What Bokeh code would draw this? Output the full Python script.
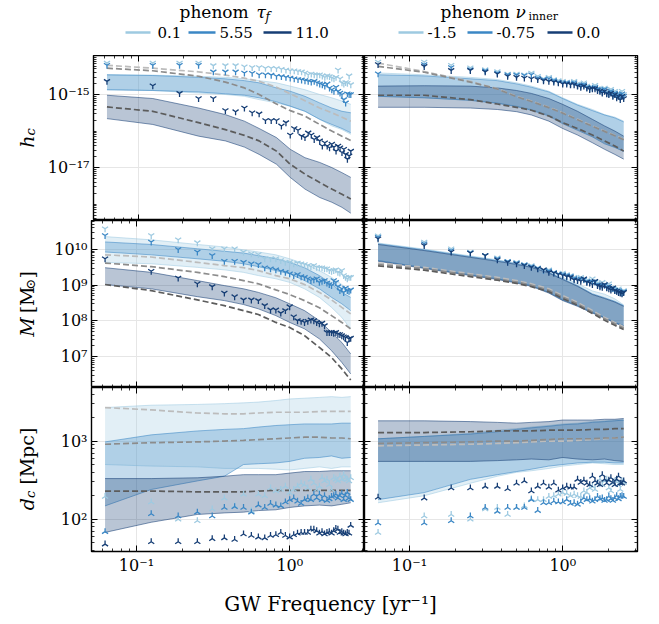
import math
from bokeh.plotting import figure
from bokeh.layouts import column, row
from bokeh.models import Range1d, LogAxis, FixedTicker, CustomJSTickFormatter
from bokeh.core.properties import value
from bokeh.embed import file_html
from bokeh.resources import INLINE

# ---------------- data (log10 values) ----------------
FREQ = [0.0624, 0.1248, 0.1871, 0.2495, 0.3119, 0.3743, 0.4367, 0.4991, 0.5614, 0.6238,
        0.6862, 0.7486, 0.8110, 0.8734, 0.9357, 0.9981, 1.0605, 1.1229, 1.1853, 1.2477,
        1.3100, 1.3724, 1.4348, 1.4972, 1.5596, 1.6220, 1.6843, 1.7467, 1.8091, 1.8715,
        1.9339, 1.9963, 2.0586, 2.1210, 2.1834, 2.2458, 2.3082, 2.3706, 2.4329, 2.4953]
FREQ_BAND = [0.0624, 0.1248, 0.2495, 0.3743, 0.4991, 0.6238, 0.8110, 0.9981, 1.2477,
             1.5596, 1.8715, 2.1834, 2.4953]

TAU_LABELS = ["0.1", "5.55", "11.0"]
NU_LABELS = ["-1.5", "-0.75", "0.0"]

# h_c, tau_f
hc_tau_a_hi = [-14.46, -14.47, -14.50, -14.53, -14.57, -14.62, -14.68, -14.77, -14.87, -15.00, -15.09, -15.18, -15.27]
hc_tau_a_lo = [-14.87, -14.89, -14.96, -15.00, -15.05, -15.14, -15.23, -15.32, -15.46, -15.68, -15.86, -15.96, -16.09]
hc_tau_a_med = [-14.20, -14.28, -14.38, -14.47, -14.55, -14.64, -14.80, -14.98, -15.17, -15.37, -15.50, -15.62, -15.73]
hc_tau_a_pts = [-14.14, -14.14, -14.14, -14.14, -14.21, -14.21, -14.21, -14.24, -14.26, -14.26,
                -14.28, -14.28, -14.29, -14.31, -14.33, -14.35, -14.35, -14.37, -14.38, -14.41,
                -14.46, -14.44, -14.46, -14.47, -14.46, -14.49, -14.53, -14.49, -14.51, -14.55,
                -14.57, -14.53, -14.33, -14.57, -14.68, -14.71, -14.67, -14.69, -14.49, -14.73]
hc_tau_b_hi = [-14.46, -14.48, -14.53, -14.57, -14.62, -14.68, -14.82, -14.91, -15.05, -15.23, -15.37, -15.46, -15.50]
hc_tau_b_lo = [-14.87, -14.89, -14.93, -14.98, -15.02, -15.09, -15.20, -15.32, -15.46, -15.68, -15.82, -15.93, -16.05]
hc_tau_b_med = [-14.28, -14.35, -14.50, -14.66, -14.82, -15.00, -15.26, -15.44, -15.59, -15.82, -16.00, -16.14, -16.26]
hc_tau_b_pts = [-14.20, -14.20, -14.20, -14.20, -14.38, -14.38, -14.38, -14.41, -14.42, -14.46,
                -14.46, -14.47, -14.50, -14.51, -14.53, -14.55, -14.57, -14.59, -14.60, -14.62,
                -14.64, -14.66, -14.64, -14.68, -14.71, -14.73, -14.77, -14.71, -14.82, -14.87,
                -14.91, -14.80, -14.91, -14.96, -15.00, -15.14, -15.23, -14.98, -15.00, -15.00]
hc_tau_c_hi = [-15.02, -15.11, -15.37, -15.55, -15.73, -15.93, -16.18, -16.50, -16.73, -16.86, -17.00, -17.14, -17.27]
hc_tau_c_lo = [-15.66, -15.82, -16.14, -16.27, -16.44, -16.64, -16.91, -17.27, -17.59, -17.82, -17.95, -18.09, -18.25]
hc_tau_c_med = [-15.34, -15.46, -15.77, -15.96, -16.12, -16.27, -16.55, -16.91, -17.18, -17.41, -17.59, -17.73, -17.86]
hc_tau_c_pts = [-14.64, -14.76, -14.97, -15.11, -15.11, -15.44, -15.47, -15.37, -15.50, -15.53,
                -15.71, -15.71, -15.71, -15.86, -15.77, -16.11, -15.93, -15.98, -16.14, -16.18,
                -16.05, -16.11, -16.23, -16.18, -16.27, -16.41, -16.32, -16.41, -16.46, -16.36,
                -16.44, -16.55, -16.41, -16.46, -16.59, -16.50, -16.64, -16.77, -16.68, -16.55]

# h_c, nu_inner
hc_nu_a_hi = [-14.41, -14.46, -14.53, -14.59, -14.68, -14.77, -14.91, -15.09, -15.27, -15.41, -15.55, -15.62, -15.73]
hc_nu_a_lo = [-15.05, -15.09, -15.16, -15.23, -15.32, -15.41, -15.56, -15.77, -15.95, -16.14, -16.32, -16.44, -16.55]
hc_nu_a_med = [-14.14, -14.37, -14.64, -14.84, -15.05, -15.18, -15.35, -15.50, -15.68, -15.86, -16.00, -16.12, -16.23]
hc_nu_a_pts = [-14.11, -14.11, -14.20, -14.27, -14.32, -14.37, -14.44, -14.44, -14.46, -14.41,
               -14.50, -14.57, -14.53, -14.59, -14.62, -14.64, -14.66, -14.68, -14.64, -14.71,
               -14.73, -14.68, -14.77, -14.82, -14.80, -14.75, -14.84, -14.86, -14.89, -14.82,
               -14.91, -14.96, -14.86, -14.98, -14.91, -15.00, -14.96, -15.05, -14.91, -15.00]
hc_nu_b_hi = [-14.46, -14.49, -14.57, -14.62, -14.71, -14.80, -14.93, -15.11, -15.29, -15.44, -15.56, -15.64, -15.75]
hc_nu_b_lo = [-15.05, -15.09, -15.16, -15.24, -15.33, -15.43, -15.59, -15.80, -15.98, -16.16, -16.35, -16.45, -16.56]
hc_nu_b_med = [-14.23, -14.39, -14.66, -14.85, -15.06, -15.19, -15.36, -15.51, -15.69, -15.87, -16.01, -16.13, -16.24]
hc_nu_b_pts = [-14.43, -14.18, -14.26, -14.32, -14.35, -14.41, -14.46, -14.47, -14.48, -14.46,
               -14.55, -14.59, -14.57, -14.62, -14.66, -14.68, -14.68, -14.71, -14.68, -14.75,
               -14.77, -14.73, -14.80, -14.84, -14.82, -14.80, -14.86, -14.89, -14.93, -14.86,
               -14.96, -14.98, -14.91, -15.02, -14.96, -15.05, -15.00, -15.09, -14.98, -15.05]
hc_nu_c_hi = [-14.77, -14.76, -14.77, -14.82, -14.89, -14.97, -15.11, -15.27, -15.46, -15.68, -15.86, -16.00, -16.14]
hc_nu_c_lo = [-15.35, -15.35, -15.37, -15.41, -15.47, -15.56, -15.73, -15.93, -16.11, -16.32, -16.50, -16.64, -16.77]
hc_nu_c_med = [-15.02, -15.02, -15.14, -15.26, -15.35, -15.43, -15.59, -15.77, -15.93, -16.11, -16.27, -16.41, -16.55]
hc_nu_c_pts = [-14.18, -14.23, -14.34, -14.34, -14.38, -14.44, -14.50, -14.53, -14.55, -14.57,
               -14.59, -14.62, -14.64, -14.66, -14.68, -14.71, -14.71, -14.73, -14.73, -14.77,
               -14.80, -14.77, -14.82, -14.86, -14.84, -14.84, -14.89, -14.91, -14.96, -14.91,
               -14.98, -15.00, -14.96, -15.05, -15.00, -15.09, -15.05, -15.14, -15.05, -15.11]

# M, tau_f
m_tau_a_hi = [10.36, 10.27, 10.14, 10.07, 9.99, 9.93, 9.85, 9.74, 9.60, 9.41, 9.22, 9.02, 8.80]
m_tau_a_lo = [9.64, 9.60, 9.50, 9.43, 9.36, 9.27, 9.18, 9.08, 8.90, 8.66, 8.38, 8.10, 7.78]
m_tau_a_med = [9.85, 9.79, 9.64, 9.55, 9.49, 9.41, 9.27, 9.18, 9.02, 8.80, 8.59, 8.38, 8.20]
m_tau_a_pts = [10.58, 10.39, 10.27, 10.19, 10.02, 10.02, 10.02, 9.93, 9.88, 9.86,
               9.74, 9.74, 9.74, 9.69, 9.64, 9.64, 9.60, 9.62, 9.60, 9.58,
               9.55, 9.52, 9.55, 9.50, 9.49, 9.49, 9.46, 9.46, 9.41, 9.39,
               9.41, 9.43, 9.36, 9.34, 9.41, 9.27, 9.22, 9.18, 9.22, 9.22]
m_tau_b_hi = [10.21, 10.14, 10.02, 9.95, 9.90, 9.83, 9.74, 9.64, 9.49, 9.27, 9.04, 8.80, 8.66]
m_tau_b_lo = [9.93, 9.85, 9.74, 9.67, 9.60, 9.52, 9.41, 9.32, 9.13, 8.90, 8.66, 8.48, 8.29]
m_tau_b_med = [9.62, 9.52, 9.36, 9.24, 9.13, 9.04, 8.87, 8.74, 8.57, 8.37, 8.15, 7.96, 7.78]
m_tau_b_pts = [10.39, 10.21, 10.00, 9.93, 9.83, 9.67, 9.67, 9.64, 9.60, 9.58,
               9.49, 9.46, 9.43, 9.39, 9.36, 9.32, 9.27, 9.30, 9.24, 9.22,
               9.18, 9.13, 9.15, 9.18, 9.08, 9.11, 9.13, 9.06, 9.02, 8.99,
               9.13, 9.08, 8.96, 8.85, 8.90, 8.80, 8.92, 8.85, 8.83, 8.87]
m_tau_c_hi = [9.49, 9.36, 9.13, 8.99, 8.90, 8.80, 8.65, 8.48, 8.29, 8.01, 7.68, 7.40, 7.08]
m_tau_c_lo = [9.02, 8.90, 8.68, 8.57, 8.46, 8.34, 8.15, 7.96, 7.78, 7.50, 7.17, 6.84, 6.52]
m_tau_c_med = [9.02, 8.85, 8.59, 8.43, 8.29, 8.18, 7.96, 7.82, 7.59, 7.26, 6.98, 6.66, 6.35]
m_tau_c_pts = [9.74, 9.39, 9.20, 9.04, 8.96, 8.78, 8.68, 8.59, 8.59, 8.57,
               8.43, 8.31, 8.31, 8.22, 8.29, 8.40, 8.12, 8.01, 7.99, 7.96,
               7.99, 8.03, 8.01, 7.96, 7.92, 7.94, 7.87, 7.68, 7.68, 7.68,
               7.66, 7.68, 7.63, 7.62, 7.59, 7.56, 7.54, 7.40, 7.50, 7.52]

# M, nu_inner
m_nu_a_hi = [10.18, 10.01, 9.82, 9.71, 9.62, 9.55, 9.40, 9.22, 9.04, 8.84, 8.75, 8.62, 8.45]
m_nu_a_lo = [9.69, 9.49, 9.29, 9.18, 9.08, 8.99, 8.80, 8.59, 8.43, 8.24, 8.10, 7.96, 7.87]
m_nu_a_med = [9.62, 9.50, 9.32, 9.22, 9.13, 9.04, 8.90, 8.71, 8.52, 8.29, 8.10, 7.96, 7.84]
m_nu_a_pts = [10.38, 10.21, 10.02, 9.93, 9.83, 9.77, 9.67, 9.64, 9.58, 9.55,
              9.49, 9.41, 9.43, 9.36, 9.32, 9.34, 9.30, 9.27, 9.22, 9.18,
              9.22, 9.15, 9.13, 9.11, 9.18, 9.08, 9.06, 9.02, 9.08, 8.99,
              8.96, 9.04, 8.93, 8.90, 8.87, 8.85, 8.90, 8.83, 8.80, 8.85]
m_nu_b_hi = [10.16, 9.99, 9.80, 9.69, 9.60, 9.52, 9.36, 9.18, 8.99, 8.76, 8.65, 8.55, 8.43]
m_nu_b_lo = [9.69, 9.49, 9.29, 9.18, 9.08, 8.99, 8.80, 8.59, 8.43, 8.24, 8.10, 7.96, 7.87]
m_nu_b_med = [9.58, 9.46, 9.28, 9.18, 9.09, 9.00, 8.86, 8.67, 8.48, 8.25, 8.06, 7.92, 7.80]
m_nu_b_pts = [10.34, 10.16, 9.97, 9.91, 9.83, 9.74, 9.66, 9.62, 9.57, 9.52,
              9.47, 9.42, 9.40, 9.35, 9.31, 9.30, 9.27, 9.25, 9.19, 9.16,
              9.17, 9.16, 9.10, 9.08, 9.10, 9.10, 9.02, 8.99, 9.00, 9.00,
              8.94, 8.97, 8.90, 8.91, 8.86, 8.84, 8.85, 8.80, 8.78, 8.82]
m_nu_c_hi = [10.14, 9.97, 9.78, 9.67, 9.58, 9.50, 9.34, 9.16, 8.97, 8.74, 8.63, 8.53, 8.41]
m_nu_c_lo = [9.67, 9.47, 9.27, 9.16, 9.06, 8.97, 8.78, 8.57, 8.41, 8.22, 8.08, 7.94, 7.85]
m_nu_c_med = [9.54, 9.42, 9.24, 9.14, 9.05, 8.96, 8.82, 8.63, 8.44, 8.21, 8.02, 7.88, 7.76]
m_nu_c_pts = [10.30, 10.11, 9.93, 9.90, 9.83, 9.71, 9.64, 9.60, 9.55, 9.50,
              9.46, 9.43, 9.36, 9.34, 9.30, 9.27, 9.24, 9.22, 9.15, 9.13,
              9.11, 9.18, 9.08, 9.06, 9.02, 9.11, 8.99, 8.96, 8.94, 9.02,
              8.93, 8.90, 8.87, 8.93, 8.85, 8.83, 8.80, 8.78, 8.76, 8.80]

# d_c, tau_f
dc_tau_a_hi = [3.43, 3.46, 3.47, 3.48, 3.49, 3.50, 3.52, 3.54, 3.55, 3.56, 3.57, 3.56, 3.57]
dc_tau_a_lo = [2.70, 2.68, 2.67, 2.65, 2.65, 2.65, 2.64, 2.63, 2.65, 2.67, 2.65, 2.67, 2.67]
dc_tau_a_med = [3.43, 3.40, 3.36, 3.35, 3.35, 3.36, 3.37, 3.37, 3.37, 3.38, 3.38, 3.38, 3.38]
dc_tau_a_pts = [2.29, 2.22, 2.00, 1.98, 2.13, 2.27, 2.17, 2.32, 2.11, 2.32,
                2.30, 2.40, 2.36, 2.38, 2.42, 2.34, 2.38, 2.42, 2.46, 2.44,
                2.40, 2.51, 2.46, 2.38, 2.42, 2.53, 2.49, 2.51, 2.44, 2.38,
                2.53, 2.51, 2.49, 2.55, 2.51, 2.57, 2.53, 2.51, 2.49, 2.53]
dc_tau_b_hi = [2.99, 3.08, 3.13, 3.15, 3.16, 3.18, 3.20, 3.21, 3.22, 3.22, 3.22, 3.23, 3.23]
dc_tau_b_lo = [2.17, 2.38, 2.49, 2.55, 2.70, 2.71, 2.72, 2.74, 2.78, 2.79, 2.81, 2.78, 2.79]
dc_tau_b_med = [2.96, 2.98, 2.99, 3.00, 3.01, 3.02, 3.03, 3.04, 3.05, 3.05, 3.04, 3.04, 3.03]
dc_tau_b_pts = [1.84, 2.07, 2.04, 2.09, 2.04, 2.15, 2.16, 2.15, 2.09, 2.18,
                2.15, 2.20, 2.18, 2.17, 2.22, 2.25, 2.27, 2.23, 2.20, 2.25,
                2.27, 2.25, 2.32, 2.27, 2.32, 2.25, 2.30, 2.24, 2.26, 2.29,
                2.30, 2.32, 2.27, 2.30, 2.33, 2.25, 2.30, 2.34, 2.27, 2.25]
dc_tau_c_hi = [2.52, 2.52, 2.53, 2.55, 2.57, 2.57, 2.57, 2.59, 2.61, 2.61, 2.62, 2.62, 2.62]
dc_tau_c_lo = [1.83, 1.96, 2.06, 2.08, 2.09, 2.11, 2.12, 2.15, 2.17, 2.18, 2.17, 2.19, 2.21]
dc_tau_c_med = [2.36, 2.36, 2.35, 2.35, 2.35, 2.36, 2.37, 2.37, 2.37, 2.37, 2.37, 2.37, 2.37]
dc_tau_c_pts = [1.68, 1.71, 1.71, 1.71, 1.75, 1.76, 1.74, 1.81, 1.79, 1.77,
                1.76, 1.79, 1.80, 1.83, 1.79, 1.77, 1.80, 1.82, 1.83, 1.83,
                1.83, 1.87, 1.87, 1.85, 1.82, 1.84, 1.81, 1.83, 1.84, 1.82,
                1.85, 1.88, 1.87, 1.83, 1.84, 1.82, 1.81, 1.83, 1.82, 1.92]

# d_c, nu_inner
dc_nu_a_hi = [3.03, 3.06, 3.10, 3.14, 3.16, 3.18, 3.20, 3.22, 3.23, 3.25, 3.26, 3.27, 3.27]
dc_nu_a_lo = [2.21, 2.30, 2.46, 2.55, 2.60, 2.62, 2.65, 2.68, 2.70, 2.72, 2.71, 2.70, 2.70]
dc_nu_a_med = [2.94, 2.95, 2.96, 2.97, 2.98, 2.99, 3.00, 3.00, 3.01, 3.02, 3.03, 3.04, 3.05]
dc_nu_a_pts = [1.83, 2.04, 2.06, 2.00, 2.13, 2.15, 2.06, 2.15, 2.17, 2.26,
               2.25, 2.25, 2.29, 2.30, 2.32, 2.34, 2.33, 2.30, 2.32, 2.30,
               2.29, 2.36, 2.34, 2.40, 2.42, 2.38, 2.46, 2.51, 2.44, 2.49,
               2.51, 2.40, 2.36, 2.46, 2.49, 2.50, 2.44, 2.38, 2.49, 2.47]
dc_nu_b_hi = [3.03, 3.06, 3.09, 3.12, 3.15, 3.17, 3.19, 3.21, 3.22, 3.24, 3.25, 3.26, 3.27]
dc_nu_b_lo = [2.25, 2.34, 2.51, 2.57, 2.61, 2.64, 2.68, 2.70, 2.72, 2.73, 2.73, 2.72, 2.72]
dc_nu_b_med = [2.97, 2.98, 2.99, 3.00, 3.00, 3.01, 3.02, 3.03, 3.03, 3.03, 3.04, 3.04, 3.05]
dc_nu_b_pts = [1.95, 1.95, 1.98, 2.04, 2.15, 2.10, 2.15, 2.15, 2.15, 2.25,
               2.11, 2.21, 2.21, 2.23, 2.22, 2.22, 2.25, 2.20, 2.21, 2.19,
               2.22, 2.27, 2.25, 2.26, 2.23, 2.25, 2.29, 2.26, 2.27, 2.24,
               2.25, 2.29, 2.26, 2.24, 2.27, 2.30, 2.26, 2.29, 2.30, 2.29]
dc_nu_c_hi = [3.26, 3.26, 3.25, 3.24, 3.23, 3.24, 3.25, 3.27, 3.27, 3.27, 3.28, 3.28, 3.29]
dc_nu_c_lo = [2.74, 2.74, 2.74, 2.75, 2.76, 2.77, 2.76, 2.79, 2.77, 2.76, 2.77, 2.75, 2.74]
dc_nu_c_med = [3.11, 3.11, 3.12, 3.13, 3.13, 3.13, 3.14, 3.14, 3.14, 3.15, 3.15, 3.16, 3.16]
dc_nu_c_pts = [2.28, 2.27, 2.40, 2.40, 2.42, 2.42, 2.39, 2.46, 2.49, 2.36,
               2.42, 2.46, 2.41, 2.46, 2.37, 2.40, 2.42, 2.41, 2.41, 2.51,
               2.47, 2.50, 2.46, 2.44, 2.55, 2.49, 2.46, 2.44, 2.57, 2.51,
               2.46, 2.50, 2.53, 2.47, 2.44, 2.51, 2.55, 2.46, 2.46, 2.49]

# ---------------- styling ----------------
FONT = "DejaVu Serif"
COLORS = ["#9ecae1", "#3b87c5", "#163e75"]
GRAYS = ["#bcbcbc", "#8c8c8c", "#5c5c5c"]

X_RANGE = (0.0509, 3.07)
Y_RANGES = [(3.55e-19, 1.17e-14), (1.38e6, 6.46e10), (38.5, 4864.0)]
Y_MAJOR = [[1e-17, 1e-15], [1e7, 1e8, 1e9, 1e10], [1e2, 1e3]]
Y_DECADES = [range(-19, -13), range(6, 11), range(1, 4)]
FRAME_W = 273
FRAME_H = [165, 167, 166]
YLAB_W = 44
HEAD_H = 55
LEFT_B = 47
RIGHT_B = 14
BOTTOM_B = 24
XLAB_H = 39

SUP_CODE = """
const s = {"-": "\u207b", "0": "\u2070", "1": "\u00b9", "2": "\u00b2", "3": "\u00b3",
           "4": "\u2074", "5": "\u2075", "6": "\u2076", "7": "\u2077", "8": "\u2078", "9": "\u2079"};
const e = Math.round(Math.log10(tick));
return "10" + String(e).split("").map(c => s[c]).join("");
"""


def lin(v):
    return [10 ** a for a in v]


def minors(decades):
    return [m * 10.0 ** k for k in decades for m in range(1, 10)]


def style_axis(ax, ticker, labels):
    ax.ticker = ticker
    ax.axis_line_color = None
    ax.major_tick_in = 6
    ax.major_tick_out = 0
    ax.minor_tick_in = 3
    ax.minor_tick_out = 0
    ax.major_tick_line_color = "black"
    ax.minor_tick_line_color = "black"
    ax.major_tick_line_width = 1
    ax.minor_tick_line_width = 0.8
    if labels:
        ax.formatter = CustomJSTickFormatter(code=SUP_CODE)
        ax.major_label_text_font = FONT
        ax.major_label_text_font_size = "16px"
        ax.major_label_text_color = "black"
        ax.major_label_standoff = 4
    else:
        ax.formatter = CustomJSTickFormatter(code='return "";')
        ax.major_label_text_font_size = "1px"
        ax.major_label_text_color = None
        ax.major_label_standoff = 0


def make_panel(r, c, series):
    left = c == 0
    bottom = r == 2
    mbl = LEFT_B if left else 0
    mbr = 0 if left else RIGHT_B
    mbb = BOTTOM_B if bottom else 0
    p = figure(width=mbl + FRAME_W + mbr, height=FRAME_H[r] + mbb,
               x_axis_type="log", y_axis_type="log",
               x_range=Range1d(*X_RANGE), y_range=Range1d(*Y_RANGES[r]),
               output_backend="svg", toolbar_location=None,
               min_border_left=mbl, min_border_right=mbr,
               min_border_top=0, min_border_bottom=mbb)
    p.add_layout(LogAxis(), "above")
    p.add_layout(LogAxis(), "right")
    xt = FixedTicker(ticks=[0.1, 1.0], minor_ticks=minors(range(-2, 1)))
    yt = FixedTicker(ticks=Y_MAJOR[r], minor_ticks=minors(Y_DECADES[r]))
    style_axis(p.below[0], xt, bottom)
    style_axis(p.above[0], xt, False)
    style_axis(p.left[0], yt, left)
    style_axis(p.right[0], yt, False)
    p.xgrid.ticker = xt
    p.ygrid.ticker = yt
    p.grid.grid_line_color = "#e6e6e6"
    p.grid.grid_line_width = 1
    p.outline_line_color = "black"
    p.outline_line_width = 1.4
    p.background_fill_color = "white"
    p.border_fill_color = "white"

    for i, (hi, lo, med, pts) in enumerate(series):
        p.varea(x=FREQ_BAND, y1=lin(lo), y2=lin(hi), fill_color=COLORS[i], fill_alpha=0.3)
        p.line(FREQ_BAND, lin(hi), line_color=COLORS[i], line_alpha=0.55, line_width=1)
        p.line(FREQ_BAND, lin(lo), line_color=COLORS[i], line_alpha=0.55, line_width=1)
    for i, (hi, lo, med, pts) in enumerate(series):
        p.line(FREQ_BAND, lin(med), line_color=GRAYS[i], line_width=1.7, line_dash="6 3")
    for i, (hi, lo, med, pts) in enumerate(series):
        p.scatter(x=FREQ, y=lin(pts), marker="y", size=7, line_color=COLORS[i],
                  line_width=1.3, angle=(math.pi if r == 2 else 0.0))
    return p


PANELS = [
    [[(hc_tau_a_hi, hc_tau_a_lo, hc_tau_a_med, hc_tau_a_pts),
      (hc_tau_b_hi, hc_tau_b_lo, hc_tau_b_med, hc_tau_b_pts),
      (hc_tau_c_hi, hc_tau_c_lo, hc_tau_c_med, hc_tau_c_pts)],
     [(hc_nu_a_hi, hc_nu_a_lo, hc_nu_a_med, hc_nu_a_pts),
      (hc_nu_b_hi, hc_nu_b_lo, hc_nu_b_med, hc_nu_b_pts),
      (hc_nu_c_hi, hc_nu_c_lo, hc_nu_c_med, hc_nu_c_pts)]],
    [[(m_tau_a_hi, m_tau_a_lo, m_tau_a_med, m_tau_a_pts),
      (m_tau_b_hi, m_tau_b_lo, m_tau_b_med, m_tau_b_pts),
      (m_tau_c_hi, m_tau_c_lo, m_tau_c_med, m_tau_c_pts)],
     [(m_nu_a_hi, m_nu_a_lo, m_nu_a_med, m_nu_a_pts),
      (m_nu_b_hi, m_nu_b_lo, m_nu_b_med, m_nu_b_pts),
      (m_nu_c_hi, m_nu_c_lo, m_nu_c_med, m_nu_c_pts)]],
    [[(dc_tau_a_hi, dc_tau_a_lo, dc_tau_a_med, dc_tau_a_pts),
      (dc_tau_b_hi, dc_tau_b_lo, dc_tau_b_med, dc_tau_b_pts),
      (dc_tau_c_hi, dc_tau_c_lo, dc_tau_c_med, dc_tau_c_pts)],
     [(dc_nu_a_hi, dc_nu_a_lo, dc_nu_a_med, dc_nu_a_pts),
      (dc_nu_b_hi, dc_nu_b_lo, dc_nu_b_med, dc_nu_b_pts),
      (dc_nu_c_hi, dc_nu_c_lo, dc_nu_c_med, dc_nu_c_pts)]],
]

rows = []
for r in range(3):
    rows.append(row(make_panel(r, 0, PANELS[r][0]), make_panel(r, 1, PANELS[r][1])))
grid = column(*rows)

TOTAL_W = YLAB_W + LEFT_B + 2 * FRAME_W + RIGHT_B
BODY_H = sum(FRAME_H) + BOTTOM_B


def blank(width, height, xr, yr):
    q = figure(width=width, height=height, x_range=Range1d(*xr), y_range=Range1d(*yr),
               output_backend="svg", toolbar_location=None,
               x_axis_location=None, y_axis_location=None,
               min_border_left=0, min_border_right=0, min_border_top=0, min_border_bottom=0)
    q.grid.visible = False
    q.outline_line_color = None
    q.background_fill_color = "white"
    q.border_fill_color = "white"
    return q


def put(q, x, y, t, size, style="normal", align="left", baseline="middle", angle=0.0):
    q.text(x=[x], y=[y], text=[t], text_font=value(FONT), text_font_size=value(f"{size}px"),
           text_font_style=style, text_align=align, text_baseline=baseline,
           text_color="black", angle=angle)


# header with the two legends (screen-like coordinates)
head = blank(TOTAL_W, HEAD_H, (0, TOTAL_W), (HEAD_H, 0))
put(head, 179, 11, "phenom", 17)
put(head, 256, 11, "\u03c4", 17, "italic")
put(head, 265, 16, "f", 12, "italic")
put(head, 440, 11, "phenom", 17)
put(head, 515, 11, "\u03bd", 17, "italic")
put(head, 528, 16, "inner", 11)
leg_left = [(125, 150, 157), (188, 215, 219), (263, 291, 295)]
leg_right = [(398, 423, 427), (467, 492, 496), (547, 572, 576)]
for i, (x0, x1, xt) in enumerate(leg_left):
    head.segment(x0=[x0], y0=[32], x1=[x1], y1=[32], line_color=COLORS[i], line_width=2.5)
    put(head, xt, 32, TAU_LABELS[i], 15)
for i, (x0, x1, xt) in enumerate(leg_right):
    head.segment(x0=[x0], y0=[32], x1=[x1], y1=[32], line_color=COLORS[i], line_width=2.5)
    put(head, xt, 32, NU_LABELS[i], 15)

# y labels column
ylab = blank(YLAB_W, BODY_H, (0, YLAB_W), (HEAD_H + BODY_H, HEAD_H))
YLABELS = [
    (137.5, [("h", 19, "italic", 0, 12.2), ("c", 13, "italic", 4, 7.3)]),
    (303.5, [("M", 19, "italic", 0, 23.5), ("[M", 19, "normal", 0, 23.8),
             ("\u2299", 13, "normal", 4, 11.0), ("]", 19, "normal", 0, 7.4)]),
    (470.0, [("d", 19, "italic", 0, 12.2), ("c", 13, "italic", 4, 13.3),
             ("[Mpc]", 19, "normal", 0, 54.0)]),
]
for yc, pieces in YLABELS:
    total = sum(pc[4] for pc in pieces)
    y = yc + total / 2
    for t, size, style, dx, adv in pieces:
        put(ylab, 26 + dx, y, t, size, style, angle=math.pi / 2)
        y -= adv

# x label
xlab = blank(TOTAL_W, XLAB_H, (0, TOTAL_W), (HEAD_H + BODY_H + XLAB_H, HEAD_H + BODY_H))
put(xlab, 330, 603, "GW Frequency [yr\u207b\u00b9]", 20, align="center")

page = column(head, row(ylab, grid), xlab)

with open("out.html", "w") as fh:
    fh.write(file_html(page, INLINE))
